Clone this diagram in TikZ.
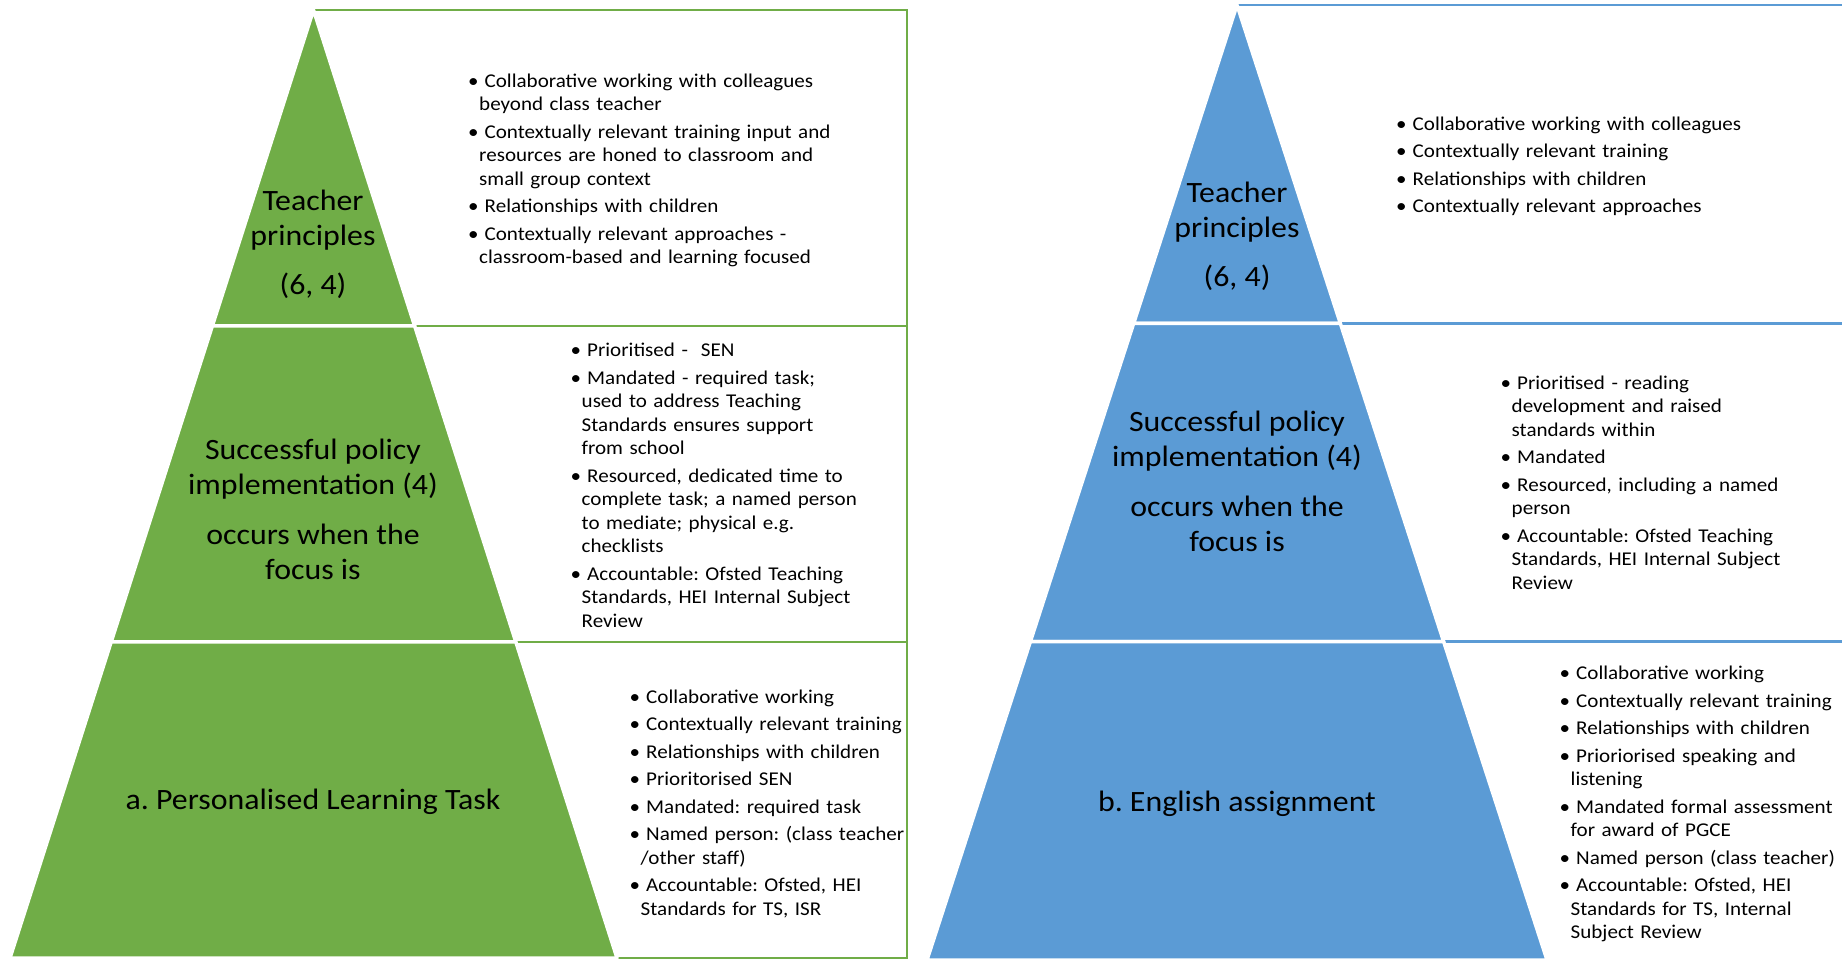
\documentclass[tikz,border=0pt]{standalone}
\usepackage{fontspec}
\setmainfont{Carlito}[FakeStretch=1.08]
\usetikzlibrary{calc}
\definecolor{plgreen}{HTML}{70AD47}
\definecolor{engblue}{HTML}{5B9BD5}
\frenchspacing
\setlength{\parindent}{0pt}
\newcommand{\bul}{\par\parskip=4pt\relax\hangindent=11pt\hangafter=1\strut\textbullet\hspace{6pt}}

\begin{document}
\begin{tikzpicture}[x=1pt, y=-1pt,
  tier/.style={draw=white, line width=3.5pt, line join=round},
  rim/.style={line width=2.5pt},
  big/.style={align=center, inner sep=0pt, font=\fontsize{29.5}{34.5}\selectfont},
  pts/.style={anchor=north west, inner sep=0pt, text width=420pt, align=left, font=\fontsize{19.5}{23.5}\selectfont}]
\useasboundingbox (0,0) rectangle (1842,961);

% a. green pyramid
\coordinate (gA) at (313.5, 10);
\coordinate (gL) at (10, 958);
\coordinate (gR) at (617, 958);
\coordinate (gL1) at ($(gA)!1/3!(gL)$);
\coordinate (gR1) at ($(gA)!1/3!(gR)$);
\coordinate (gL2) at ($(gA)!2/3!(gL)$);
\coordinate (gR2) at ($(gA)!2/3!(gR)$);
\coordinate (gTR) at (907, 10);
\coordinate (gBR) at (907, 958);

\draw[rim, plgreen] (gA) -- (gTR) -- (gBR) -- (gR);
\draw[rim, plgreen] (gR1) -- (gR1 -| gTR);
\draw[rim, plgreen] (gR2) -- (gR2 -| gTR);

\filldraw[tier, fill=plgreen] (gA) -- (gR1) -- (gL1) -- cycle;
\filldraw[tier, fill=plgreen] (gL1) -- (gR1) -- (gR2) -- (gL2) -- cycle;
\filldraw[tier, fill=plgreen] (gL2) -- (gR2) -- (gR) -- (gL) -- cycle;

\node[big] (gtop) at (313, 244.5) {Teacher\\principles\\[15pt](6, 4)};
\node[big] (gmid) at (313, 509.2) {Successful policy\\implementation (4)\\[16pt]occurs when the\\focus is};
\node[big] (gbot) at (313, 802) {a. Personalised Learning Task};

\node[pts] (gtopl) at (468, 59.5) {\bul Collaborative working with colleagues\newline beyond class teacher
\bul Contextually relevant training input and\newline resources are honed to classroom and\newline small group context
\bul Relationships with children
\bul Contextually relevant approaches -\newline classroom-based and learning focused\par};
\node[pts] (gmidl) at (570.5, 329.2) {\bul Prioritised -~ SEN
\bul Mandated - required task;\newline used to address Teaching\newline Standards ensures support\newline from school
\bul Resourced, dedicated time to\newline complete task; a named person\newline to mediate; physical e.g.\newline checklists
\bul Accountable: Ofsted Teaching\newline Standards, HEI Internal Subject\newline Review\par};
\node[pts] (gbotl) at (629.5, 675.5) {\bul Collaborative working
\bul Contextually relevant training
\bul Relationships with children
\bul Prioritorised SEN
\bul Mandated: required task
\bul Named person: (class teacher\newline /other staff)
\bul Accountable: Ofsted, HEI\newline Standards for TS, ISR\par};

% b. blue pyramid
\coordinate (bA) at (1237, 5);
\coordinate (bL) at (927, 960);
\coordinate (bR) at (1547, 960);
\coordinate (bL1) at ($(bA)!1/3!(bL)$);
\coordinate (bR1) at ($(bA)!1/3!(bR)$);
\coordinate (bL2) at ($(bA)!2/3!(bL)$);
\coordinate (bR2) at ($(bA)!2/3!(bR)$);
\coordinate (bTR) at (1842, 5);

\draw[rim, engblue] (bA) -- (bTR);
\draw[rim, engblue] (bR1) -- (bR1 -| bTR);
\draw[rim, engblue] (bR2) -- (bR2 -| bTR);

\filldraw[tier, fill=engblue] (bA) -- (bR1) -- (bL1) -- cycle;
\filldraw[tier, fill=engblue] (bL1) -- (bR1) -- (bR2) -- (bL2) -- cycle;
\filldraw[tier, fill=engblue] (bL2) -- (bR2) -- (bR) -- (bL) -- cycle;

\node[big] (btop) at (1237, 236.5) {Teacher\\principles\\[15pt](6, 4)};
\node[big] (bmid) at (1237, 481.2) {Successful policy\\implementation (4)\\[16pt]occurs when the\\focus is};
\node[big] (bbot) at (1237, 804) {b. English assignment};

\node[pts] (btopl) at (1396, 102.5) {\bul Collaborative working with colleagues
\bul Contextually relevant training
\bul Relationships with children
\bul Contextually relevant approaches\par};
\node[pts] (bmidl) at (1500.5, 361.5) {\bul Prioritised - reading\newline development and raised\newline standards within
\bul Mandated
\bul Resourced, including a named\newline person
\bul Accountable: Ofsted Teaching\newline Standards, HEI Internal Subject\newline Review\par};
\node[pts] (bbotl) at (1559.5, 652) {\bul Collaborative working
\bul Contextually relevant training
\bul Relationships with children
\bul Prioriorised speaking and\newline listening
\bul Mandated formal assessment\newline for award of PGCE
\bul Named person (class teacher)
\bul Accountable: Ofsted, HEI\newline Standards for TS, Internal\newline Subject Review\par};
\end{tikzpicture}
\end{document}
